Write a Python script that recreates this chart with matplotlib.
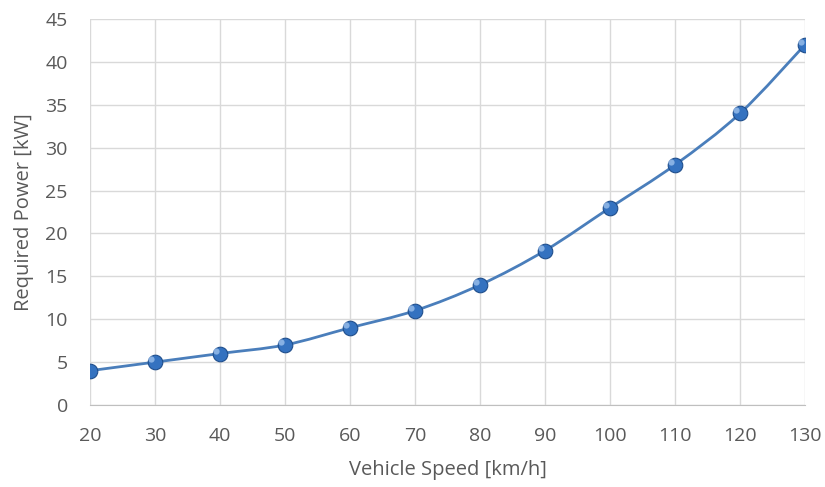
import matplotlib.pyplot as plt
from matplotlib.path import Path
from matplotlib.patches import PathPatch
import numpy as np

plt.rcParams['font.family'] = ['Open Sans', 'DejaVu Sans']

# vehicle speed [km/h] and required power [kW]
speed = [20, 30, 40, 50, 60, 70, 80, 90, 100, 110, 120, 130]
power = [4, 5, 6, 7, 9, 11, 14, 18, 23, 28, 34, 42]


def smooth_path(x, y, t=1.0 / 6.0):
    # Excel-style smoothed line: cubic bezier segments through each point
    x = np.asarray(x, float)
    y = np.asarray(y, float)
    n = len(x)
    verts = [(x[0], y[0])]
    codes = [Path.MOVETO]
    for i in range(n - 1):
        i0 = max(i - 1, 0)
        i3 = min(i + 2, n - 1)
        c1 = (x[i] + (x[i + 1] - x[i0]) * t, y[i] + (y[i + 1] - y[i0]) * t)
        c2 = (x[i + 1] - (x[i3] - x[i]) * t, y[i + 1] - (y[i3] - y[i]) * t)
        verts += [c1, c2, (x[i + 1], y[i + 1])]
        codes += [Path.CURVE4] * 3
    return Path(verts, codes)


fig = plt.figure(figsize=(8.25, 4.87), dpi=100)
ax = fig.add_axes([90 / 825, 1 - 405 / 487, 715 / 825, 386 / 487])

ax.add_patch(PathPatch(smooth_path(speed, power), facecolor="none",
                       edgecolor="#4a7ebb", lw=2.0, zorder=3))
ax.plot(speed, power, linestyle="none", marker="o", markersize=10.5,
        markerfacecolor="#3472c0", markeredgecolor="#1f4e8c",
        markeredgewidth=0.8, zorder=4)
ax.plot(np.array(speed) - 0.6, np.array(power) + 0.35, linestyle="none",
        marker="o", markersize=4.5, markerfacecolor="#9cc0ec",
        markeredgecolor="none", alpha=0.8, zorder=5)

ax.set_xlim(20, 130)
ax.set_ylim(0, 45)
ax.set_xticks(speed)
ax.set_yticks(range(0, 46, 5))
ax.grid(True, color="#d9d9d9", lw=1.0)
ax.set_axisbelow(True)
for s in ["top", "right", "left"]:
    ax.spines[s].set_visible(False)
ax.spines["bottom"].set_color("#bfbfbf")
ax.tick_params(length=0, labelsize=14, colors="#595959")
ax.tick_params(axis="x", pad=16)
ax.tick_params(axis="y", pad=16)
ax.set_xlabel("Vehicle Speed [km/h]", fontsize=14.5, color="#595959", labelpad=11)
ax.set_ylabel("Required Power [kW]", fontsize=14.5, color="#595959", labelpad=8)

fig.savefig("out.png", dpi=100)
